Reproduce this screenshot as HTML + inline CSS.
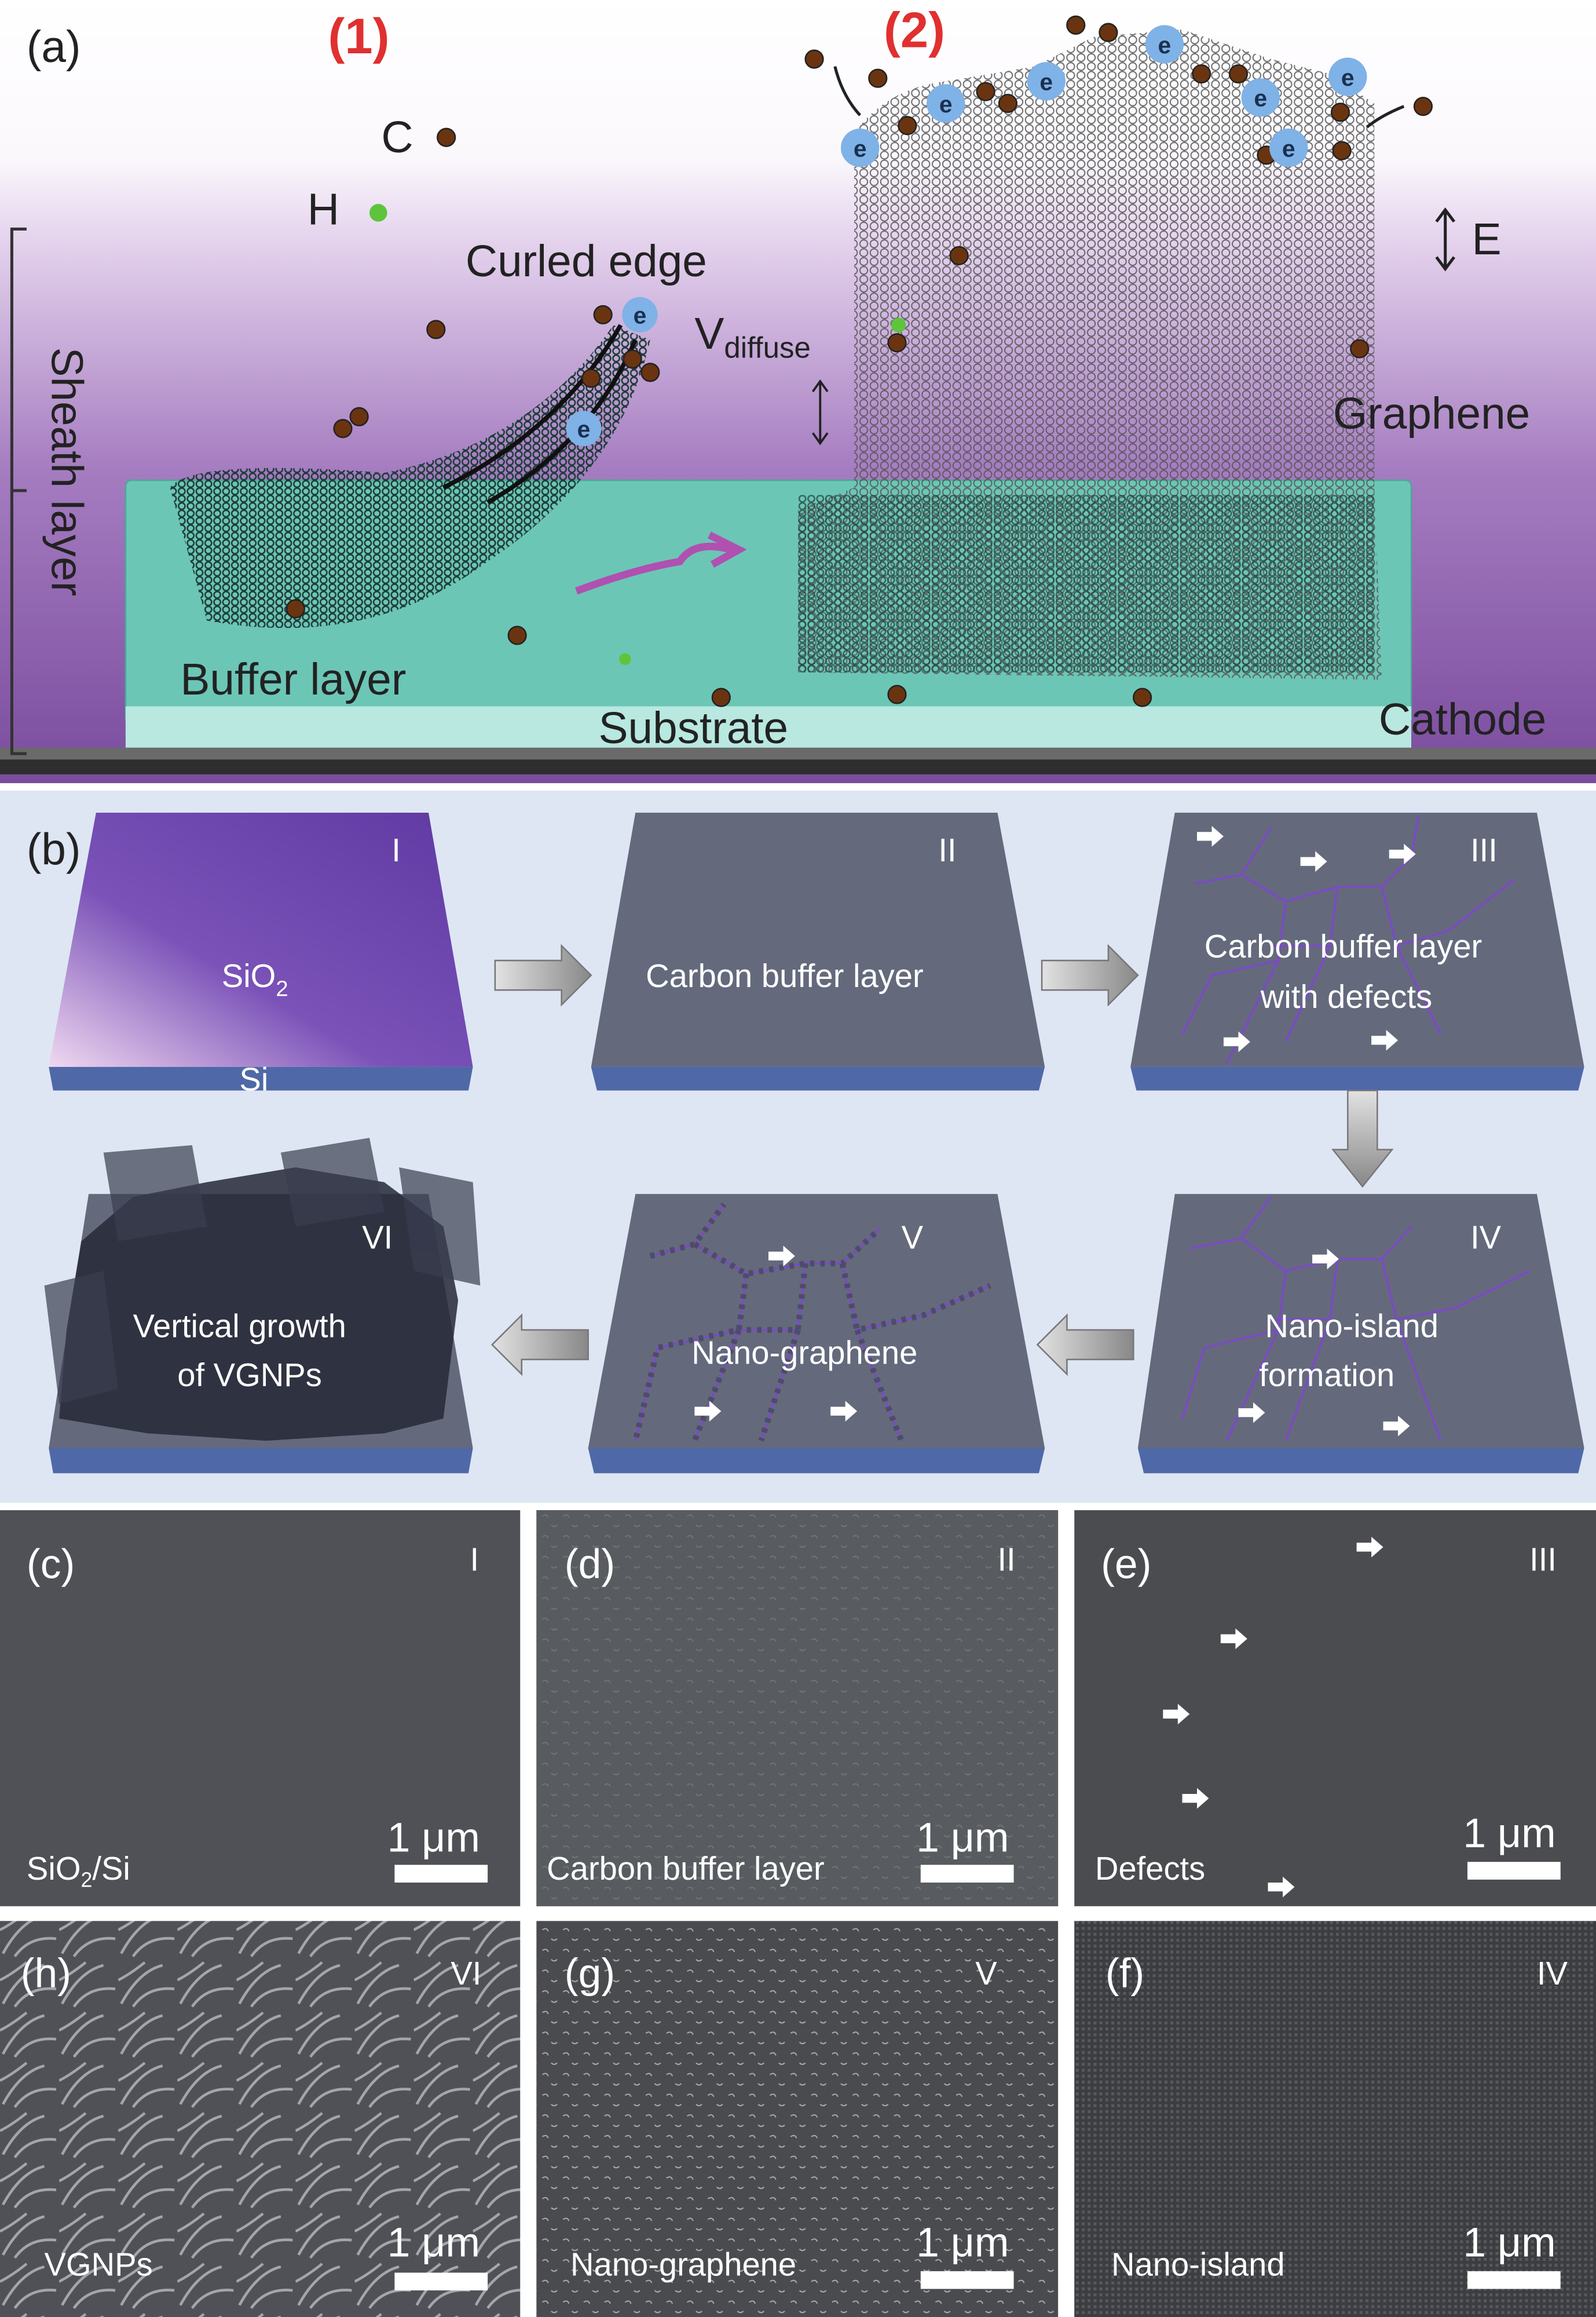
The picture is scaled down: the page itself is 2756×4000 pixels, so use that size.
<!DOCTYPE html>
<html><head><meta charset="utf-8"><style>
html,body{margin:0;padding:0;background:#fff;}
svg{display:block;}
text{font-family:"Liberation Sans",sans-serif;}
.n{font-family:"Liberation Sans Narrow","Liberation Sans",sans-serif;}
</style></head><body>
<svg width="2756" height="4000" viewBox="0 0 1080 1568" preserveAspectRatio="none" xmlns="http://www.w3.org/2000/svg">
<defs>
<linearGradient id="bgA" x1="0" y1="0" x2="0" y2="1">
<stop offset="0" stop-color="#ffffff"/><stop offset="0.2" stop-color="#fbf8fc"/>
<stop offset="0.3" stop-color="#e6d5ee"/><stop offset="0.6" stop-color="#a57cc0"/>
<stop offset="1" stop-color="#7a4c9e"/></linearGradient>
<pattern id="hex" width="7" height="6" patternUnits="userSpaceOnUse">
<circle cx="3.5" cy="3" r="2.6" fill="none" stroke="#555" stroke-width="0.8"/></pattern>
<pattern id="hexd" width="6" height="5" patternUnits="userSpaceOnUse">
<circle cx="3" cy="2.5" r="2.2" fill="none" stroke="#1e3c38" stroke-width="1"/></pattern>
<linearGradient id="p1" x1="1" y1="0" x2="0" y2="1">
<stop offset="0" stop-color="#5f3aa2"/><stop offset="0.6" stop-color="#7a52b8"/><stop offset="1" stop-color="#f0d8f0"/></linearGradient>
<linearGradient id="arr" x1="0" y1="0" x2="1" y2="0"><stop offset="0" stop-color="#e2e2e2"/><stop offset="1" stop-color="#888"/></linearGradient>
<linearGradient id="arrv" x1="0" y1="0" x2="0" y2="1"><stop offset="0" stop-color="#e2e2e2"/><stop offset="1" stop-color="#888"/></linearGradient>
<pattern id="leaf" width="40" height="34" patternUnits="userSpaceOnUse">
<rect width="40" height="34" fill="#505157"/>
<path d="M2 30 Q14 8 30 4 M10 32 Q20 18 38 20 M0 14 Q8 10 18 2" stroke="#a4a6ac" stroke-width="1.8" fill="none"/></pattern>
<pattern id="dots" width="14" height="14" patternUnits="userSpaceOnUse">
<rect width="14" height="14" fill="#4a4b4f"/><path d="M3 4 q3 -2 4 1 M9 10 q2 2 4 0" stroke="#aaa" stroke-width="0.8" fill="none"/></pattern>
<pattern id="grain" width="4" height="4" patternUnits="userSpaceOnUse">
<rect width="4" height="4" fill="#3c3d40"/><rect x="0" y="0" width="2" height="2" fill="#58595d"/></pattern>
</defs>

<rect x="0" y="0" width="1080" height="530" fill="url(#bgA)"/>
<rect x="85" y="325" width="870" height="165" rx="4" fill="#6cc6b6" stroke="#4aa898"/>
<rect x="85" y="478" width="870" height="28" fill="#b8e8e0"/>
<rect x="0" y="506" width="1080" height="8" fill="#6a6a6a"/>
<rect x="0" y="514" width="1080" height="10" fill="#2e2e2e"/>
<path d="M578 90 Q600 60 640 55 L700 45 L740 25 L800 20 L860 40 L900 50 L930 70 L930 330 L935 460 L540 455 L540 345 L578 330 Z" fill="url(#hex)" opacity="0.85"/>
<rect x="540" y="335" width="390" height="120" fill="url(#hexd)" opacity="0.7"/>
<path d="M115 330 Q130 310 260 320 Q360 300 415 220 L440 230 Q420 320 330 380 Q250 440 140 420 Z" fill="url(#hexd)"/>
<path d="M300 330 Q380 290 420 220 M330 340 Q400 300 430 230" stroke="#111" stroke-width="3" fill="none"/>
<path d="M390 400 Q430 385 460 380 Q470 365 495 372" stroke="#b050b0" stroke-width="5" fill="none"/>
<path d="M480 362 L500 372 L482 382" stroke="#b050b0" stroke-width="5" fill="none"/>
<g fill="#6a3410" stroke="#222" stroke-width="1">
<circle cx="302" cy="93" r="6"/><circle cx="295" cy="223" r="6"/><circle cx="243" cy="282" r="6"/><circle cx="232" cy="290" r="6"/><circle cx="200" cy="412" r="6"/><circle cx="350" cy="430" r="6"/><circle cx="488" cy="472" r="6"/><circle cx="607" cy="470" r="6"/><circle cx="773" cy="472" r="6"/>
<circle cx="408" cy="213" r="6"/><circle cx="400" cy="256" r="6"/><circle cx="428" cy="243" r="6"/><circle cx="440" cy="252" r="6"/>
<circle cx="551" cy="40" r="6"/><circle cx="594" cy="53" r="6"/><circle cx="614" cy="85" r="6"/><circle cx="667" cy="62" r="6"/><circle cx="682" cy="70" r="6"/><circle cx="728" cy="17" r="6"/><circle cx="750" cy="22" r="6"/><circle cx="813" cy="50" r="6"/><circle cx="838" cy="50" r="6"/><circle cx="907" cy="76" r="6"/><circle cx="963" cy="72" r="6"/><circle cx="857" cy="105" r="6"/><circle cx="908" cy="102" r="6"/><circle cx="649" cy="173" r="6"/><circle cx="607" cy="232" r="6"/><circle cx="920" cy="236" r="6"/>
</g>
<circle cx="256" cy="144" r="6" fill="#5ec43c"/><circle cx="608" cy="220" r="5" fill="#5ec43c"/><circle cx="423" cy="446" r="4" fill="#5ec43c"/>
<g fill="#7fb2e6"><circle cx="433" cy="213" r="12"/><circle cx="395" cy="290" r="12"/><circle cx="582" cy="100" r="13"/><circle cx="640" cy="70" r="13"/><circle cx="708" cy="55" r="13"/><circle cx="788" cy="30" r="13"/><circle cx="853" cy="66" r="13"/><circle cx="912" cy="52" r="13"/><circle cx="872" cy="100" r="13"/></g>
<g font-size="16" fill="#1a3050" text-anchor="middle" font-weight="bold"><text x="433" y="219">e</text><text x="395" y="296">e</text><text x="582" y="106">e</text><text x="640" y="76">e</text><text x="708" y="61">e</text><text x="788" y="36">e</text><text x="853" y="72">e</text><text x="912" y="58">e</text><text x="872" y="106">e</text></g>
<path d="M565 45 Q570 65 582 78" stroke="#222" stroke-width="2" fill="none"/><path d="M950 72 Q935 78 925 86" stroke="#222" stroke-width="2" fill="none"/>
<path d="M555 258 V300 M550 265 L555 258 L560 265 M550 293 L555 300 L560 293" stroke="#222" stroke-width="1.5" fill="none"/>
<path d="M978 142 V182 M972 150 L978 142 L984 150 M972 174 L978 182 L984 174" stroke="#222" stroke-width="2" fill="none"/>
<path d="M18 155 H8 V510 H18 M8 332 H18" stroke="#333" stroke-width="2" fill="none"/>
<g fill="#222" font-size="30">
<text x="18" y="42">(a)</text>
<text x="258" y="103">C</text><text x="208" y="152">H</text>
<text x="315" y="187">Curled edge</text>
<text x="470" y="236">V<tspan font-size="20" dy="6">diffuse</tspan></text>
<text x="996" y="172">E</text>
<text x="902" y="290">Graphene</text>
<text x="122" y="470">Buffer layer</text>
<text x="405" y="503">Substrate</text>
<text x="933" y="497">Cathode</text>
<text transform="translate(35,235) rotate(90)">Sheath layer</text>
</g>
<g fill="#e03030" font-size="34" font-weight="bold"><text x="222" y="36">(1)</text><text x="598" y="32">(2)</text></g>

<rect x="0" y="535" width="1080" height="482" fill="#dee6f4"/>
<g>
<path d="M65 550 H290 L320 722 H33 Z" fill="url(#p1)"/><path d="M33 722 H320 L317 738 H36 Z" fill="#4f68a8"/>
<path d="M430 550 H675 L707 722 H400 Z" fill="#646a7c"/><path d="M400 722 H707 L703 738 H404 Z" fill="#4f68a8"/>
<path d="M795 550 H1040 L1072 722 H765 Z" fill="#646a7c"/><path d="M765 722 H1072 L1068 738 H769 Z" fill="#4f68a8"/>
<path d="M60 808 H290 L320 980 H33 Z" fill="#646a7c"/><path d="M33 980 H320 L317 997 H36 Z" fill="#4f68a8"/>
<path d="M430 808 H675 L707 980 H398 Z" fill="#646a7c"/><path d="M398 980 H707 L703 997 H402 Z" fill="#4f68a8"/>
<path d="M795 808 H1040 L1072 980 H770 Z" fill="#646a7c"/><path d="M770 980 H1072 L1068 997 H774 Z" fill="#4f68a8"/>
</g>
<g stroke="#7a4cc0" stroke-width="1.6" fill="none">
<path d="M808 598 L840 592 L860 560 M840 592 L870 610 L905 600 L935 600 L955 580 L960 552 M870 610 L865 650 L820 660 L800 700 M905 600 L900 640 L860 640 M935 600 L945 640 L980 630 L1025 595 M945 640 L975 700 M900 640 L870 705 M865 650 L830 720"/>
<path d="M805 845 L840 838 L860 810 M840 838 L870 860 L905 852 L935 852 L955 830 M870 860 L865 900 L815 912 L800 960 M905 852 L900 893 L860 893 M935 852 L945 893 L985 885 L1035 860 M945 893 L975 975 M900 893 L870 975 M865 900 L830 975"/>
<path d="M440 850 L470 842 L490 815 M470 842 L505 862 L545 855 L570 855 L595 832 M505 862 L500 900 L445 912 L430 975 M545 855 L540 900 L500 900 M570 855 L580 900 L625 890 L670 870 M580 900 L610 975 M540 900 L515 975 M500 900 L470 975"/>
</g>
<g stroke="#444a5a" stroke-width="4" stroke-dasharray="3 4" fill="none" opacity="0.8">
<path d="M440 850 L470 842 L490 815 M470 842 L505 862 L545 855 L570 855 L595 832 M505 862 L500 900 L445 912 L430 975 M545 855 L540 900 L500 900 M570 855 L580 900 L625 890 L670 870 M580 900 L610 975 M540 900 L515 975 M500 900 L470 975"/>
</g>
<g fill="#262836" opacity="0.85">
<path d="M55 840 L90 810 L140 800 L200 790 L260 800 L300 830 L310 880 L300 960 L260 970 L180 975 L100 970 L40 960 L45 900 Z"/>
</g>
<g fill="#3a3d50" opacity="0.7"><path d="M70 780 L130 775 L140 830 L80 840 Z"/><path d="M190 780 L250 770 L260 820 L200 830 Z"/><path d="M270 790 L320 800 L325 870 L280 860 Z"/><path d="M30 870 L70 860 L80 940 L40 950 Z"/></g>
<g>
<path d="M335 650 H380 V640 L400 660 L380 680 V670 H335 Z" fill="url(#arr)" stroke="#777"/>
<path d="M705 650 H750 V640 L770 660 L750 680 V670 H705 Z" fill="url(#arr)" stroke="#777"/>
<path d="M912 738 V778 H902 L922 803 L942 778 H932 V738 Z" fill="url(#arrv)" stroke="#777"/>
<path d="M767 900 H722 V890 L702 910 L722 930 V920 H767 Z" fill="url(#arr)" stroke="#777"/>
<path d="M398 900 H353 V890 L333 910 L353 930 V920 H398 Z" fill="url(#arr)" stroke="#777"/>
</g>
<g fill="#fff">
<path id="wa" d="M0 -3 H10 V-7 L18 0 L10 7 V3 H0 Z"/>
<use href="#wa" x="810" y="566"/><use href="#wa" x="880" y="583"/><use href="#wa" x="940" y="578"/><use href="#wa" x="828" y="705"/><use href="#wa" x="928" y="704"/>
<use href="#wa" x="888" y="852"/><use href="#wa" x="838" y="956"/><use href="#wa" x="936" y="965"/>
<use href="#wa" x="520" y="850"/><use href="#wa" x="470" y="955"/><use href="#wa" x="562" y="955"/>
</g>
<g fill="#fff" font-size="22" class="n">
<text x="18" y="585" fill="#222" font-size="30" font-family="Liberation Sans">(b)</text>
<text x="265" y="583">I</text><text x="635" y="583">II</text><text x="995" y="583">III</text>
<text x="150" y="668">SiO<tspan font-size="15" dy="6">2</tspan></text><text x="162" y="738">Si</text>
<text x="437" y="668">Carbon buffer layer</text>
<text x="815" y="648">Carbon buffer layer</text><text x="853" y="682">with defects</text>
<text x="245" y="845">VI</text><text x="610" y="845">V</text><text x="995" y="845">IV</text>
<text x="90" y="905">Vertical growth</text><text x="120" y="938">of VGNPs</text>
<text x="468" y="923">Nano-graphene</text>
<text x="856" y="905">Nano-island</text><text x="852" y="938">formation</text>
</g>

<rect x="0" y="1017" width="1080" height="551" fill="#fff"/>
<rect x="0" y="1022" width="352" height="268" fill="#505156"/>
<rect x="363" y="1022" width="353" height="268" fill="url(#dots)"/><rect x="363" y="1022" width="353" height="268" fill="#5e6166" opacity="0.75"/>
<rect x="727" y="1022" width="353" height="268" fill="#4b4c50"/>
<rect x="0" y="1300" width="352" height="268" fill="url(#leaf)"/>
<rect x="363" y="1300" width="353" height="268" fill="url(#dots)"/>
<rect x="727" y="1300" width="353" height="268" fill="url(#grain)"/>
<g fill="#fff">
<rect x="267" y="1262" width="63" height="12"/><rect x="623" y="1262" width="63" height="12"/><rect x="993" y="1260" width="63" height="12"/>
<rect x="267" y="1538" width="63" height="12"/><rect x="623" y="1537" width="63" height="12"/><rect x="993" y="1537" width="63" height="12"/>
<use href="#wa" x="918" y="1047"/><use href="#wa" x="826" y="1109"/><use href="#wa" x="787" y="1160"/><use href="#wa" x="800" y="1217"/><use href="#wa" x="858" y="1277"/>
</g>
<g fill="#fff" font-size="28" font-family="Liberation Sans">
<text x="18" y="1068">(c)</text><text x="382" y="1068">(d)</text><text x="745" y="1068">(e)</text>
<text x="14" y="1345">(h)</text><text x="382" y="1345">(g)</text><text x="748" y="1345">(f)</text>
<text x="262" y="1253">1 μm</text><text x="620" y="1253">1 μm</text><text x="990" y="1250">1 μm</text>
<text x="262" y="1527">1 μm</text><text x="620" y="1527">1 μm</text><text x="990" y="1527">1 μm</text>
</g>
<g fill="#fff" font-size="22" class="n">
<text x="318" y="1063">I</text><text x="675" y="1063">II</text><text x="1035" y="1063">III</text>
<text x="305" y="1343">VI</text><text x="660" y="1343">V</text><text x="1040" y="1343">IV</text>
<text x="18" y="1272">SiO<tspan font-size="14" dy="5">2</tspan><tspan dy="-5">/Si</tspan></text>
<text x="370" y="1272">Carbon buffer layer</text><text x="741" y="1272">Defects</text>
<text x="30" y="1540">VGNPs</text><text x="386" y="1540">Nano-graphene</text><text x="752" y="1540">Nano-island</text>
</g>
</svg>
</body></html>
